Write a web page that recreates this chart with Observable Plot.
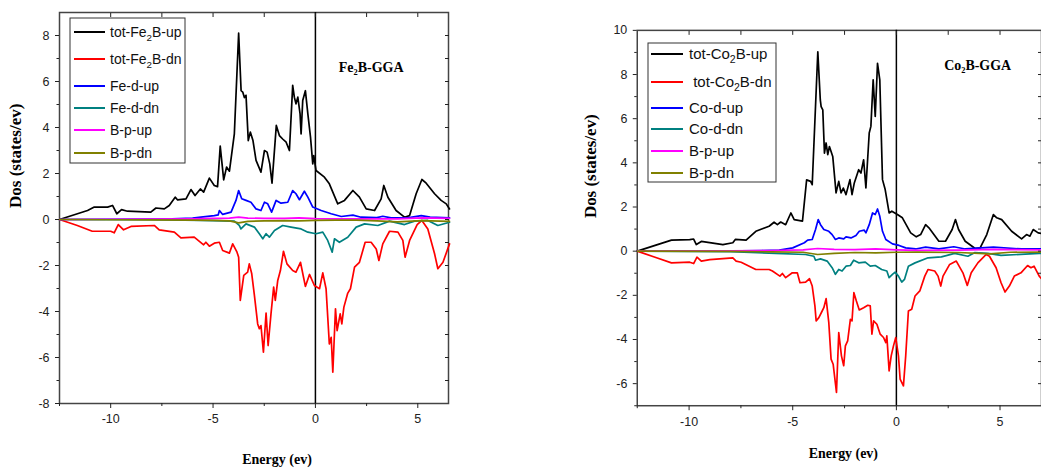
<!DOCTYPE html>
<html><head><meta charset="utf-8">
<script src="https://cdn.jsdelivr.net/npm/d3@7"></script>
<script src="https://cdn.jsdelivr.net/npm/@observablehq/plot@0.6"></script>
<style>
html,body{margin:0;padding:0;background:#fff;overflow:hidden;}
#wrap{position:relative;width:1041px;height:474px;overflow:hidden;background:#fff;}
.panel{position:absolute;top:0;}
#overlay{position:absolute;left:0;top:0;pointer-events:none;}
</style></head><body><div id="wrap"></div>
<script>
// ---------- Fe2B panel data: [energy (eV), DOS (states/eV)] ----------
const feTotUp = [[-12.5,0],[-11.13,0.39],[-10.8,0.54],[-10.15,0.54],[-9.91,0.61],[-9.7,0.25],[-9.47,0.43],[-9.18,0.36],[-8.04,0.32],[-7.79,0.5],[-7.38,0.46],[-7.14,0.61],[-6.85,0.97],[-6.73,0.85],[-6.32,0.9],[-6.08,1.3],[-5.88,1.04],[-5.62,1.33],[-5.46,1.19],[-5.18,1.8],[-4.94,1.48],[-4.78,1.43],[-4.65,3.19],[-4.48,1.72],[-4.34,2.28],[-4.2,2.1],[-3.96,3.72],[-3.75,8.1],[-3.63,5.6],[-3.55,5.54],[-3.47,5.3],[-3.39,5.4],[-3.28,3.43],[-3.18,3.8],[-3.05,3.43],[-2.9,2.57],[-2.66,2.06],[-2.49,3.0],[-2.36,2.93],[-2.23,2.42],[-2.12,1.58],[-1.91,4.09],[-1.76,3.65],[-1.6,3.5],[-1.43,3.36],[-1.27,3.0],[-1.11,5.83],[-1.03,5.32],[-0.95,5.03],[-0.86,5.32],[-0.75,4.59],[-0.7,3.72],[-0.62,5.17],[-0.49,5.6],[-0.37,4.59],[-0.24,3.58],[-0.13,2.42],[-0.08,2.78],[0.03,2.13],[0.44,1.84],[0.68,1.55],[1.09,0.68],[1.42,0.83],[1.83,1.26],[2.15,0.97],[2.48,0.46],[2.89,0.39],[3.21,0.9],[3.34,1.48],[3.54,0.97],[3.94,0.39],[4.35,0.1],[4.6,0.17],[4.92,1.12],[5.2,1.74],[5.41,1.58],[5.82,1.12],[6.14,0.83],[6.39,0.68],[6.55,0.46]];
const feTotDn = [[-12.5,0],[-11.63,-0.26],[-10.9,-0.51],[-10.0,-0.51],[-9.83,-0.58],[-9.63,-0.22],[-9.37,-0.45],[-9.01,-0.3],[-7.87,-0.26],[-7.63,-0.45],[-6.89,-0.55],[-6.57,-0.8],[-5.92,-0.77],[-5.46,-1.1],[-5.35,-0.99],[-5.18,-1.16],[-4.94,-1.03],[-4.69,-0.99],[-4.53,-1.35],[-4.2,-1.46],[-4.04,-1.06],[-3.83,-1.42],[-3.75,-1.64],[-3.67,-3.52],[-3.5,-2.43],[-3.31,-2.29],[-3.23,-1.93],[-3.11,-2.36],[-2.98,-3.3],[-2.82,-4.54],[-2.74,-4.75],[-2.66,-4.61],[-2.54,-5.77],[-2.41,-4.07],[-2.31,-5.48],[-2.17,-4.1],[-2.04,-2.94],[-1.96,-3.52],[-1.84,-2.65],[-1.71,-2.22],[-1.56,-1.38],[-1.39,-1.93],[-1.11,-2.22],[-0.95,-2.29],[-0.73,-1.86],[-0.49,-2.91],[-0.29,-2.39],[-0.05,-2.87],[0.2,-3.01],[0.36,-2.32],[0.52,-3.01],[0.68,-5.41],[0.77,-5.12],[0.85,-6.64],[0.98,-3.88],[1.06,-4.83],[1.21,-4.1],[1.29,-4.54],[1.39,-3.81],[1.58,-3.2],[1.71,-3.01],[1.91,-2.07],[2.15,-1.86],[2.43,-0.99],[2.72,-0.99],[2.97,-1.28],[3.1,-1.78],[3.29,-1.06],[3.62,-0.51],[4.03,-0.55],[4.27,-0.91],[4.38,-1.64],[4.6,-0.91],[4.97,-0.22],[5.2,-0.04],[5.49,-0.41],[5.82,-1.49],[5.98,-2.14],[6.23,-1.86],[6.55,-1.06]];
const feDUp = [[-12.5,0],[-10,0.01],[-8,0.02],[-7,0.03],[-6,0.06],[-5.59,0.1],[-4.94,0.17],[-4.75,0.2],[-4.69,0.39],[-4.53,0.22],[-4.12,0.32],[-3.88,0.83],[-3.75,1.26],[-3.6,0.9],[-3.39,0.83],[-3.15,0.75],[-2.9,0.46],[-2.66,0.39],[-2.49,0.75],[-2.33,0.68],[-2.14,0.32],[-1.92,0.83],[-1.68,0.71],[-1.35,0.75],[-1.11,1.26],[-0.95,1.12],[-0.78,0.86],[-0.54,1.23],[-0.37,0.97],[-0.13,0.54],[0.28,0.39],[0.77,0.25],[1.26,0.13],[1.83,0.19],[2.23,0.1],[3.0,0.08],[3.29,0.14],[3.7,0.07],[4.5,0.07],[5.17,0.17],[5.6,0.1],[6.55,0.07]];
const feDDn = [[-12.5,0],[-8,-0.01],[-5.59,-0.04],[-3.96,-0.07],[-3.72,-0.26],[-3.64,-0.41],[-3.39,-0.19],[-2.98,-0.33],[-2.74,-0.62],[-2.57,-0.84],[-2.41,-0.62],[-2.25,-0.77],[-2.0,-0.48],[-1.6,-0.26],[-1.19,-0.33],[-0.7,-0.41],[-0.37,-0.55],[0.03,-0.62],[0.36,-0.55],[0.6,-0.91],[0.82,-1.42],[0.93,-0.84],[1.17,-0.99],[1.58,-0.77],[1.99,-0.33],[2.4,-0.19],[3.05,-0.26],[3.62,-0.07],[4.35,-0.22],[4.84,-0.07],[5.49,-0.04],[5.98,-0.26],[6.55,-0.12]];
const fePUp = [[-12.5,0],[-10,0.01],[-8,0.02],[-6,0.03],[-5,0.05],[-4.2,0.06],[-3.75,0.1],[-3.3,0.06],[-2.5,0.05],[-1.5,0.05],[-0.8,0.07],[0,0.04],[1,0.03],[2,0.03],[3,0.03],[4,0.03],[5.2,0.07],[6.55,0.05]];
const fePDn = [[-12.5,0],[-10,-0.01],[-8,-0.02],[-6,-0.03],[-5,-0.04],[-4.2,-0.06],[-3.75,-0.15],[-3.3,-0.08],[-2.5,-0.06],[-1.5,-0.05],[-0.8,-0.06],[0,-0.04],[1,-0.03],[2,-0.03],[3,-0.06],[4,-0.1],[5.2,-0.05],[6.55,-0.08]];

// ---------- Co2B panel data ----------
const coTotUp = [[-12.5,0],[-10.85,0.5],[-9.97,0.52],[-9.78,0.55],[-9.65,0.3],[-9.41,0.44],[-8.37,0.3],[-7.89,0.38],[-7.77,0.53],[-7.25,0.5],[-6.78,0.9],[-6.14,1.13],[-5.9,1.31],[-5.74,1.2],[-5.58,1.32],[-5.34,1.2],[-5.09,1.73],[-4.93,1.43],[-4.53,1.36],[-4.33,3.23],[-4.14,3.16],[-4.06,3.01],[-3.79,9.03],[-3.67,6.85],[-3.63,6.55],[-3.55,6.4],[-3.47,4.44],[-3.39,4.9],[-3.31,4.37],[-3.23,4.74],[-3.07,4.29],[-2.91,2.64],[-2.78,3.16],[-2.67,2.64],[-2.56,2.86],[-2.43,2.56],[-2.24,3.24],[-2.14,2.56],[-2.03,3.09],[-1.82,3.69],[-1.71,3.54],[-1.58,4.14],[-1.47,2.86],[-1.31,5.35],[-1.23,5.65],[-1.12,7.76],[-1.02,6.1],[-0.91,8.51],[-0.8,7.76],[-0.67,3.24],[-0.54,2.79],[-0.35,1.73],[-0.22,1.81],[0.05,1.66],[0.29,1.51],[0.69,0.83],[0.96,0.65],[1.17,0.75],[1.41,1.2],[1.57,1.06],[2.05,0.45],[2.37,0.45],[2.69,0.98],[2.85,1.43],[3.0,0.98],[3.32,0.45],[3.8,0.12],[4.04,0.15],[4.36,0.75],[4.68,1.66],[4.84,1.51],[5.08,1.43],[5.56,0.9],[6.04,0.56],[6.28,0.75],[6.44,0.68],[6.6,0.98],[6.84,0.83],[7,0.8]];
const coTotDn = [[-12.5,0],[-11.57,-0.3],[-10.85,-0.53],[-9.97,-0.5],[-9.78,-0.56],[-9.62,-0.27],[-9.41,-0.45],[-9.0,-0.38],[-7.89,-0.3],[-7.73,-0.45],[-7.49,-0.5],[-6.78,-0.83],[-6.14,-0.83],[-5.98,-0.9],[-5.62,-1.13],[-5.5,-1.01],[-5.34,-1.2],[-5.02,-0.98],[-4.78,-0.98],[-4.65,-1.43],[-4.38,-1.4],[-4.19,-1.25],[-4.06,-1.58],[-3.93,-2.48],[-3.87,-3.16],[-3.74,-3.01],[-3.58,-2.71],[-3.5,-2.56],[-3.39,-2.15],[-3.26,-3.24],[-3.15,-4.89],[-3.05,-5.12],[-2.89,-6.4],[-2.78,-3.69],[-2.65,-4.74],[-2.54,-5.19],[-2.46,-4.29],[-2.35,-4.06],[-2.22,-3.09],[-2.14,-3.16],[-2.05,-1.88],[-1.93,-2.26],[-1.79,-2.66],[-1.58,-2.56],[-1.38,-2.45],[-1.26,-2.48],[-1.18,-3.76],[-1.1,-3.16],[-0.94,-3.31],[-0.78,-3.76],[-0.62,-3.91],[-0.51,-4.14],[-0.46,-3.84],[-0.35,-5.42],[-0.25,-4.74],[-0.14,-4.29],[-0.03,-3.91],[0.1,-4.74],[0.18,-5.79],[0.34,-6.1],[0.45,-4.74],[0.58,-2.71],[0.74,-2.63],[0.9,-2.03],[1.13,-1.8],[1.37,-1.13],[1.53,-0.83],[1.85,-0.9],[2.01,-1.13],[2.14,-1.58],[2.25,-1.13],[2.57,-0.6],[2.89,-0.45],[3.21,-0.98],[3.42,-1.55],[3.61,-0.98],[3.93,-0.53],[4.33,-0.15],[4.49,-0.23],[4.81,-0.75],[5.05,-1.43],[5.24,-1.85],[5.45,-1.58],[5.69,-1.13],[6.01,-0.98],[6.33,-0.65],[6.49,-0.75],[6.64,-0.68],[6.89,-1.13],[7,-1.25]];
const coDUp = [[-12.5,0],[-9,0.01],[-7.5,0.02],[-6.5,0.03],[-5.65,0.05],[-5.0,0.15],[-4.44,0.38],[-4.28,0.5],[-4.06,0.53],[-3.9,0.98],[-3.77,1.43],[-3.66,1.2],[-3.5,0.98],[-3.26,0.9],[-3.1,0.75],[-2.94,0.53],[-2.78,0.6],[-2.54,0.56],[-2.43,0.65],[-2.19,0.6],[-1.95,0.71],[-1.79,0.9],[-1.55,0.95],[-1.47,0.83],[-1.31,1.2],[-1.15,1.73],[-1.02,1.66],[-0.91,1.91],[-0.8,1.58],[-0.67,0.9],[-0.51,0.53],[-0.19,0.33],[0.13,0.26],[0.45,0.15],[0.93,0.1],[1.41,0.18],[2.05,0.1],[2.77,0.2],[3.32,0.1],[4.68,0.18],[6.04,0.1],[7,0.1]];
const coDDn = [[-12.5,0],[-8,-0.02],[-5.82,-0.1],[-4.38,-0.15],[-3.98,-0.23],[-3.9,-0.41],[-3.66,-0.35],[-3.34,-0.45],[-3.1,-0.75],[-2.94,-1.05],[-2.78,-0.83],[-2.62,-0.9],[-2.43,-0.68],[-2.22,-0.65],[-2.06,-0.41],[-1.82,-0.53],[-1.5,-0.5],[-1.26,-0.68],[-1.02,-0.65],[-0.71,-0.83],[-0.46,-0.9],[-0.35,-1.2],[-0.19,-1.05],[-0.06,-0.95],[0.1,-1.13],[0.26,-1.4],[0.39,-1.28],[0.58,-0.68],[0.9,-0.53],[1.53,-0.3],[2.17,-0.26],[2.81,-0.1],[3.45,-0.23],[3.77,-0.07],[4.41,-0.1],[5.05,-0.19],[6.89,-0.1],[7,-0.1]];
const coPUp = [[-12.5,0],[-8,0.01],[-6,0.03],[-4.5,0.06],[-3.8,0.12],[-3,0.08],[-2,0.07],[-1,0.1],[0,0.06],[1,0.04],[3,0.05],[4.7,0.08],[7,0.06]];
const coPDn = [[-12.5,0],[-8,-0.01],[-6,-0.03],[-4.5,-0.05],[-3.8,-0.15],[-3,-0.1],[-2,-0.06],[-1,-0.08],[0,-0.05],[1,-0.04],[3,-0.06],[4.5,-0.12],[5.5,-0.05],[7,-0.04]];

// ---------- labels & ticks ----------
const feNames = ["tot-Fe₂B-up","tot-Fe₂B-dn","Fe-d-up","Fe-d-dn","B-p-up","B-p-dn"];
const coNames = ["tot-Co₂B-up"," tot-Co₂B-dn","Co-d-up","Co-d-dn","B-p-up","B-p-dn"];
const seriesColors = ["#000000","#ff0000","#0000ff","#008080","#ff00ff","#808000"];
const xMajor = [-10,-5,0,5];
const xMinor = [-12.5,-7.5,-2.5,2.5];
const feYMajor = [-8,-6,-4,-2,0,2,4,6,8];
const feYMinor = [-7,-5,-3,-1,1,3,5,7];
const coYMajor = [-6,-4,-2,0,2,4,6,8,10];
const coYMinor = [-7,-5,-3,-1,1,3,5,7,9];
const feTitle = "Fe₂B-GGA";
const coTitle = "Co₂B-GGA";
const xTitle = "Energy (ev)";
const yTitle = "Dos (states/ev)";

const wrap = document.getElementById("wrap");
const serif = "'Liberation Serif','Times New Roman',serif";

function panel(cfg) {
  const series = cfg.series.map((pts, i) => pts.map(([e, d]) => ({e, d, s: i})));
  const marks = [
    Plot.frame({stroke: "#444", strokeWidth: 1.5}),
    Plot.ruleX([0], {stroke: "#000", strokeWidth: 1.5}),
    ...series.map((rows, i) => Plot.line(rows, {x: "e", y: "d", stroke: seriesColors[i], strokeWidth: 1.7})),
    Plot.axisX({anchor: "bottom", ticks: xMajor, tickSize: 5, tickPadding: 6, tickFormat: d => String(d), label: null, fontSize: 12.5}),
    Plot.axisX({anchor: "bottom", ticks: xMinor.filter(v => v >= cfg.xd[0] && v <= cfg.xd[1]), tickSize: 3, tickFormat: () => "", label: null}),
    Plot.axisX({anchor: "top", ticks: [...xMajor, ...xMinor].filter(v => v > cfg.xd[0] && v < cfg.xd[1]), tickSize: -4, tickFormat: () => "", label: null}),
    Plot.axisY({anchor: "left", ticks: cfg.yMajor, tickSize: 4, tickPadding: 6, tickFormat: d => String(d), label: null, fontSize: 12.5}),
    Plot.axisY({anchor: "left", ticks: cfg.yMinor, tickSize: 2.5, tickFormat: () => "", label: null}),
    Plot.axisY({anchor: "right", ticks: [...cfg.yMajor, ...cfg.yMinor].filter(v => v > cfg.yd[0] && v < cfg.yd[1]), tickSize: -4, tickFormat: () => "", label: null}),
    Plot.text([cfg.title], {x: cfg.titlePos[0], y: cfg.titlePos[1], text: d => d, fontFamily: serif, fontWeight: "bold", fontSize: 14, fill: "#000"}),
    Plot.text([xTitle], {frameAnchor: "bottom", text: d => d, dx: cfg.xLab[0], dy: cfg.xLab[1], fontFamily: serif, fontWeight: "bold", fontSize: 14, fill: "#000"}),
    Plot.text([yTitle], {frameAnchor: "left", text: d => d, rotate: -90, dx: cfg.yLab, fontFamily: serif, fontWeight: "bold", fontSize: 17, fill: "#000"})
  ];
  const svg = Plot.plot({
    width: cfg.width, height: 474,
    marginLeft: cfg.m[3], marginRight: cfg.m[1], marginTop: cfg.m[0], marginBottom: cfg.m[2],
    x: {domain: cfg.xd}, y: {domain: cfg.yd},
    style: {fontFamily: "'Liberation Sans', Arial, sans-serif", fontSize: "12.5px", color: "#222", background: "transparent", overflow: "visible"},
    marks
  });
  const div = document.createElement("div");
  div.className = "panel";
  div.style.left = cfg.left + "px";
  div.appendChild(svg);
  wrap.appendChild(div);
}

panel({series: [feTotUp, feTotDn, feDUp, feDDn, fePUp, fePDn], left: 0, width: 460, m: [12, 12, 71, 59],
  xd: [-12.5, 6.5], yd: [-8, 9], yMajor: feYMajor, yMinor: feYMinor, title: feTitle, titlePos: [2.72, 6.6],
  xLab: [23, 60], yLab: -44});
panel({series: [coTotUp, coTotDn, coDUp, coDDn, coPUp, coPDn], left: 580, width: 463, m: [30, 0, 67, 57],
  xd: [-12.5, 7], yd: [-7, 10], yMajor: coYMajor, yMinor: coYMinor, title: coTitle, titlePos: [3.92, 8.43],
  xLab: [4, 52], yLab: -47});

// ---------- legends (overlay) ----------
const overlay = d3.select(wrap).append("svg").attr("id", "overlay").attr("width", 1041).attr("height", 474);
function legend(names, g) {
  overlay.append("rect").attr("x", g.x).attr("y", g.y).attr("width", g.w).attr("height", g.h)
    .attr("fill", "#fff").attr("stroke", "#333").attr("stroke-width", 1);
  names.forEach((name, i) => {
    const y = g.rows[i];
    overlay.append("line").attr("x1", g.l1).attr("x2", g.l2).attr("y1", y).attr("y2", y)
      .attr("stroke", seriesColors[i]).attr("stroke-width", 2);
    const t = overlay.append("text").attr("x", g.tx).attr("y", y + g.fs * 0.36)
      .attr("font-family", "'Liberation Sans', Arial, sans-serif").attr("font-size", g.fs).attr("fill", "#111")
      .attr("xml:space", "preserve");
    const parts = name.split("₂");
    if (parts.length === 2) {
      t.append("tspan").text(parts[0]);
      t.append("tspan").attr("dy", 4).attr("font-size", g.fs * 0.7).text("2");
      t.append("tspan").attr("dy", -4).text(parts[1]);
    } else t.text(name);
  });
}
legend(feNames, {x: 70, y: 18, w: 115, h: 145, l1: 74, l2: 105, tx: 110, rows: [32, 59, 86, 108, 130, 153], fs: 14});
legend(coNames, {x: 648, y: 43, w: 128, h: 139, l1: 651, l2: 683, tx: 689, rows: [54, 82, 108, 129, 151, 173], fs: 15});
</script></body></html>
